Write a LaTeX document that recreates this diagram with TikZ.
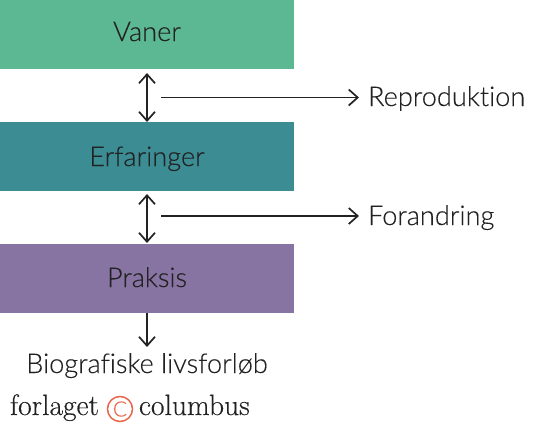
\documentclass[tikz,border=0pt]{standalone}
\usepackage{fontspec}
\setmainfont{Lato Light}[Ligatures=NoCommon,FakeBold=0.2]
\newfontfamily\serifbrand{Latin Modern Roman}[FakeBold=0.3]
\usetikzlibrary{arrows.meta}
\definecolor{cvaner}{HTML}{5BB893}
\definecolor{cerf}{HTML}{3B8C93}
\definecolor{cprak}{HTML}{8774A3}
\definecolor{cink}{HTML}{222222}
\definecolor{cred}{HTML}{E8654A}
\tikzset{
  bar/.style={minimum width=294pt,minimum height=69pt,inner sep=0pt,outer sep=0pt},
  lab/.style={inner sep=0pt,outer sep=0pt,text=cink,font=\fontsize{27.2}{29}\selectfont\addfontfeature{FakeBold=0.2}},
  brand/.style={inner sep=0pt,outer sep=0pt,text=cink,anchor=base west,font=\serifbrand\fontsize{29.5}{31}\selectfont\addfontfeature{FakeBold=0.3}},
  twoway/.style={draw=cink,line width=1.7pt,{Straight Barb[length=9pt,width=16pt,line width=1.7pt]}-{Straight Barb[length=9pt,width=16pt,line width=1.7pt]}},
  oneway/.style={draw=cink,line width=1.7pt,-{Straight Barb[length=9pt,width=16pt,line width=1.7pt]}}
}
\begin{document}
\begin{tikzpicture}[x=1pt,y=-1pt]
\useasboundingbox (0,0) rectangle (550,426);
\node[bar,fill=cvaner] (v) at (147,34.5) {};
\node[bar,fill=cerf] (e) at (147,156.5) {};
\node[bar,fill=cprak] (p) at (147,278.5) {};
\node[lab,anchor=base] (vt) at (147,41) {Vaner};
\node[lab,anchor=base] (et) at (147,166) {Erfaringer};
\node[lab,anchor=base] (pt) at (147,287) {Praksis};
\node[lab,anchor=base west] (r) at (368,106) {Reproduktion};
\node[lab,anchor=base west] (f) at (368,225) {Forandring};
\node[lab,anchor=base] (b) at (147,373) {Biografiske livsforløb};
\coordinate (a1) at (147,73);
\coordinate (a2) at (147,122);
\coordinate (a3) at (147,194);
\coordinate (a4) at (147,243);
\coordinate (a5) at (147,347);
\coordinate (s1) at (161,97.5);
\coordinate (e1) at (359,97.5);
\coordinate (s2) at (161,216);
\coordinate (e2) at (359,216);
\draw[twoway] (a1) -- (a2);
\draw[twoway] (a3) -- (a4);
\draw[oneway] (p.south -| a5) -- (a5);
\draw[oneway] (s1) -- (e1);
\draw[oneway] (s2) -- (e2);
\node[brand] (fl) at (10,415) {forlaget};
\node[circle,draw=cred,line width=1.5pt,minimum size=25pt,inner sep=0pt,text=cred,font=\fontsize{21}{21}\selectfont] (c) at (120,409) {C};
\node[brand] (co) at (139,415) {columbus};
\end{tikzpicture}
\end{document}
